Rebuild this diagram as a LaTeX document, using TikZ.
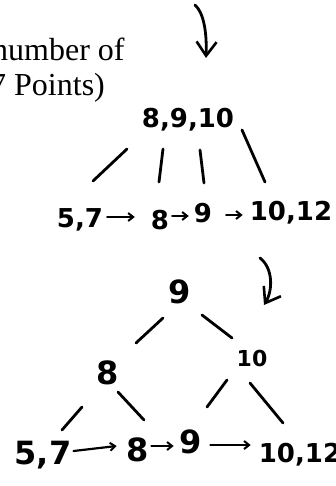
\documentclass[tikz,border=0pt]{standalone}
\usepackage{fontspec}
\setmainfont{Liberation Serif}
\newfontfamily\handfont{DejaVu Sans}
\usetikzlibrary{arrows.meta,calc}
\tikzset{
  typed/.style={font=\fontsize{32}{36}\selectfont, inner sep=0pt, anchor=base west},
  hand/.style={font=\handfont\bfseries\fontsize{26}{28}\selectfont, inner sep=0pt},
  handbig/.style={font=\handfont\bfseries\fontsize{32}{34}\selectfont, inner sep=0pt},
  handsmall/.style={font=\handfont\bfseries\fontsize{22}{24}\selectfont, inner sep=0pt},
  edge/.style={line width=2.8pt, line cap=round},
  link/.style={line width=2.2pt, line cap=round, -{Straight Barb[length=5pt,width=8pt,line width=2pt]}},
  bigarrow/.style={line width=2.8pt, line cap=round, -{Straight Barb[length=14pt,width=20pt,line width=2.6pt]}}
}
\begin{document}
\begin{tikzpicture}[x=1pt,y=-1pt]
\useasboundingbox (0,0) rectangle (335,486);
\clip (0,0) rectangle (335,486);
\fill[white] (0,0) rectangle (335,486);

% typed text (cut off at the left, as in the reference)
\node[typed] (txt1) at (-8,61) {number of};
\node[typed] (txt2) at (-10,96) {7 Points)};

% top arrow
\coordinate (ar1s) at (195,5);
\coordinate (ar1e) at (206,58);
\draw[bigarrow] (ar1s) .. controls (203,12) and (207,30) .. (ar1e);

% first tree
\node[hand] (r1) at (188,120) {8,9,10};
\node[hand] (a57) at (80,220) {5,7};
\node[hand] (b8) at (160,220) {8};
\node[hand] (c9) at (203,213) {9};
\node[hand] (d1012) at (291,213) {10,12};

\draw[edge] ($(r1)+(-61,29)$) -- ($(a57)+(13,-39)$);
\draw[edge] ($(r1)+(-25,29)$) -- ($(b8)+(-1,-38)$);
\draw[edge] ($(r1)+(12,30)$) -- ($(c9)+(1,-30)$);
\draw[edge] ($(r1)+(54,10)$) -- ($(d1012)+(-26,-31)$);

\draw[link] ($(a57.east)+(4,-3)$) -- ($(b8.west)+(-16,-3)$);
\draw[link] ($(b8.east)+(3,-4)$) -- ($(c9.west)+(-5,3)$);
\draw[link] ($(c9.east)+(14,2)$) -- ($(d1012.west)+(-7,2)$);

% second arrow
\coordinate (ar2s) at (260,258);
\coordinate (ar2e) at (264,305);
\draw[bigarrow] (ar2s) .. controls (273,268) and (273,290) .. (ar2e);

% second tree
\node[handbig] (t9) at (180,292) {9};
\node[handbig] (t8) at (108,373) {8};
\node[handsmall] (t10) at (252,358) {10};
\node[handbig] (u57) at (43,455) {5,7};
\node[handbig] (u8) at (138,450) {8};
\node[handbig] (u9) at (191,442) {9};
\node[hand] (u1012) at (300,455) {10,12};

\draw[edge] ($(t9)+(-17,26)$) -- ($(t8)+(28,-30)$);
\draw[edge] ($(t9)+(22,23)$) -- ($(t10)+(-20,-20)$);
\draw[edge] ($(t8)+(-26,34)$) -- ($(u57)+(19,-25)$);
\draw[edge] ($(t8)+(10,19)$) -- ($(u8)+(6,-30)$);
\draw[edge] ($(t10)+(-25,22)$) -- ($(u9)+(16,-35)$);
\draw[edge] ($(t10)+(-2,25)$) -- ($(u1012)+(-17,-32)$);

\draw[link] ($(u57.east)+(2,-4)$) -- ($(u8.west)+(-10,-4)$);
\draw[link] ($(u8.east)+(2,-4)$) -- ($(u9.west)+(-6,4)$);
\draw[link] ($(u9.east)+(8,3)$) -- ($(u1012.west)+(-8,-10)$);
\end{tikzpicture}
\end{document}
